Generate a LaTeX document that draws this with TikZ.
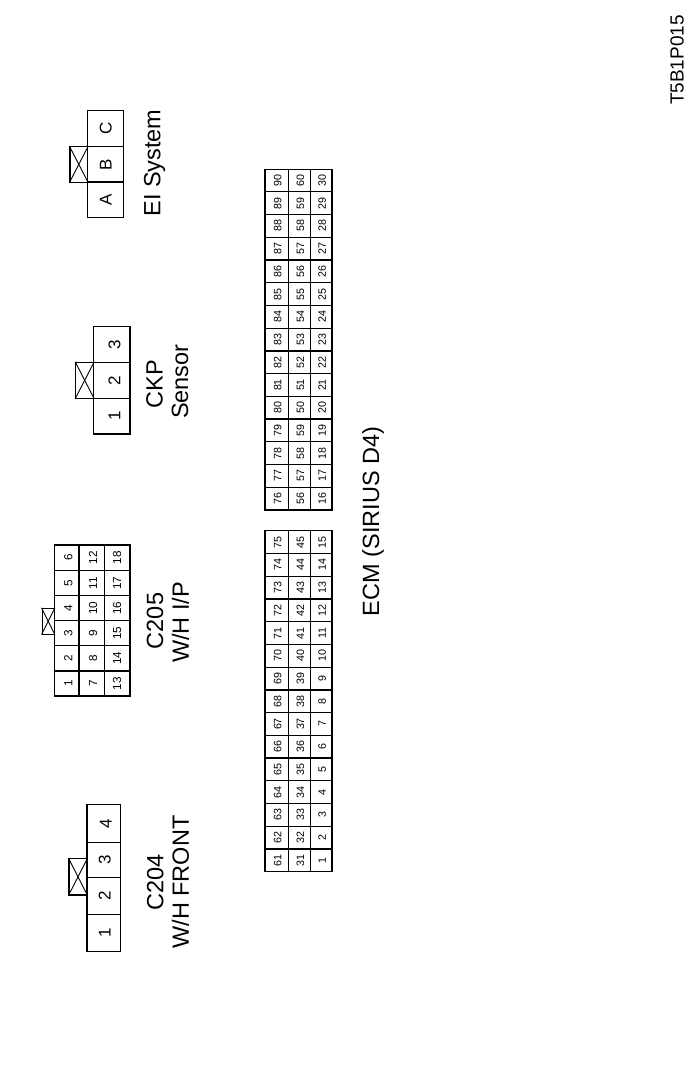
\documentclass[tikz,border=0pt]{standalone}
\usepackage{fontspec}
\setmainfont{Liberation Sans}
\usepackage{tikz}

\begin{document}
\begin{tikzpicture}[x=1pt,y=-1pt]
\tikzstyle{recti}=[rectangle,draw,line width=1.25pt,inner sep=0pt,rotate=90]
\tikzstyle{tabbox}=[rectangle,draw,line width=1.1pt,inner sep=0pt]
\tikzstyle{crossing}=[line width=0.9pt]
\tikzstyle{bigpin}=[recti,font=\fontsize{17}{18}\selectfont]
\tikzstyle{midpin}=[recti,minimum width=25.2pt,font=\fontsize{11.7}{13}\selectfont]
\tikzstyle{ecmupper}=[recti,minimum width=22.73pt,minimum height=23.3pt,text height=9.4pt,font=\fontsize{10.7}{12}\selectfont]
\tikzstyle{ecmmiddle}=[recti,minimum width=22.73pt,minimum height=22pt,text height=9.8pt,font=\fontsize{10.7}{12}\selectfont]
\tikzstyle{ecmlower}=[recti,minimum width=22.73pt,minimum height=21.7pt,text height=9.6pt,font=\fontsize{10.7}{12}\selectfont]
\tikzstyle{title}=[rotate=90,inner sep=0pt,font=\fontsize{23.5}{26}\selectfont]
\useasboundingbox (0,0) rectangle (700,1076);
% sheet code
\node [rotate=90,inner sep=0pt,font=\fontsize{19}{20}\selectfont] (sheetcode) at (677,60) {T5B1P015};
% C204
\node [bigpin,minimum width=37pt,minimum height=33.5pt,text height=14pt] (a1) at (103.7,933.2) {1};
\node [bigpin,minimum width=37pt,minimum height=33.5pt,text height=14pt] (a2) at (103.7,896.2) {2};
\node [bigpin,minimum width=35.4pt,minimum height=33.5pt,text height=14pt] (a3) at (103.7,860) {3};
\node [bigpin,minimum width=38pt,minimum height=33.5pt,text height=16pt] (a4) at (103.7,823.3) {4};
\node [tabbox,minimum width=18pt,minimum height=36.3pt] (atab) at (78,876.8) {};
\draw [crossing] (atab.north west) -- (atab.south east);
\draw [crossing] (atab.north east) -- (atab.south west);
\node [title] (aname) at (155.3,882) {C204};
\node [title] (awire) at (180.5,882) {W/H FRONT};
% C205
\node [midpin,minimum height=24.7pt,text height=11.4pt] (b1) at (66.7,683.5) {1};
\node [midpin,minimum height=24.7pt,text height=11.4pt] (b2) at (66.7,658.3) {2};
\node [midpin,minimum height=24.7pt,text height=11.4pt] (b3) at (66.7,633.2) {3};
\node [midpin,minimum height=24.7pt,text height=11.4pt] (b4) at (66.7,608.2) {4};
\node [midpin,minimum height=24.7pt,text height=11.4pt] (b5) at (66.7,583) {5};
\node [midpin,minimum height=24.7pt,text height=11.4pt] (b6) at (66.7,557.7) {6};
\node [midpin,minimum height=25.3pt,text height=10.8pt] (b7) at (91.7,683.5) {7};
\node [midpin,minimum height=25.3pt,text height=10.8pt] (b8) at (91.7,658.3) {8};
\node [midpin,minimum height=25.3pt,text height=10.8pt] (b9) at (91.7,633.2) {9};
\node [midpin,minimum height=25.3pt,text height=10.8pt] (b10) at (91.7,608.2) {10};
\node [midpin,minimum height=25.3pt,text height=10.8pt] (b11) at (91.7,583) {11};
\node [midpin,minimum height=25.3pt,text height=10.8pt] (b12) at (91.7,557.7) {12};
\node [midpin,minimum height=25.7pt] (b13) at (117.2,683.5) {13};
\node [midpin,minimum height=25.7pt] (b14) at (117.2,658.3) {14};
\node [midpin,minimum height=25.7pt] (b15) at (117.2,633.2) {15};
\node [midpin,minimum height=25.7pt] (b16) at (117.2,608.2) {16};
\node [midpin,minimum height=25.7pt] (b17) at (117.2,583) {17};
\node [midpin,minimum height=25.7pt] (b18) at (117.2,557.7) {18};
\node [tabbox,minimum width=12.3pt,minimum height=25.7pt] (btab) at (48.2,621.2) {};
\draw [crossing] (btab.north west) -- (btab.south east);
\draw [crossing] (btab.north east) -- (btab.south west);
\node [title] (bname) at (155,621) {C205};
\node [title] (bwire) at (180.5,622.5) {W/H I/P};
% CKP
\node [bigpin,minimum width=35.7pt,minimum height=36.3pt,text height=17.3pt] (c1) at (111.8,416.2) {1};
\node [bigpin,minimum width=36pt,minimum height=36.3pt,text height=17.3pt] (c2) at (111.8,380.3) {2};
\node [bigpin,minimum width=35.6pt,minimum height=36.3pt,text height=17.3pt] (c3) at (111.8,344.5) {3};
\node [tabbox,minimum width=18pt,minimum height=36pt] (ctab) at (84.7,380.3) {};
\draw [crossing] (ctab.north west) -- (ctab.south east);
\draw [crossing] (ctab.north east) -- (ctab.south west);
\node [title] (cname) at (154.5,384) {CKP};
\node [title] (cwire) at (180,381.7) {Sensor};
% EI System
\node [bigpin,minimum width=35.3pt,minimum height=36pt] (d1) at (105.7,199.7) {A};
\node [bigpin,minimum width=35.3pt,minimum height=36pt] (d2) at (105.7,164.4) {B};
\node [bigpin,minimum width=36pt,minimum height=36pt] (d3) at (105.7,128.7) {C};
\node [tabbox,minimum width=17.7pt,minimum height=35.3pt] (dtab) at (78.8,164.4) {};
\draw [crossing] (dtab.north west) -- (dtab.south east);
\draw [crossing] (dtab.north east) -- (dtab.south west);
\node [title] (dname) at (154.5,163) {EI System};
% ECM left block
\node [ecmupper] (e61) at (276.6,860.3) {61};
\node [ecmupper] (e62) at (276.6,837.6) {62};
\node [ecmupper] (e63) at (276.6,814.9) {63};
\node [ecmupper] (e64) at (276.6,792.2) {64};
\node [ecmupper] (e65) at (276.6,769.4) {65};
\node [ecmupper] (e66) at (276.6,746.7) {66};
\node [ecmupper] (e67) at (276.6,724.0) {67};
\node [ecmupper] (e68) at (276.6,701.3) {68};
\node [ecmupper] (e69) at (276.6,678.5) {69};
\node [ecmupper] (e70) at (276.6,655.8) {70};
\node [ecmupper] (e71) at (276.6,633.1) {71};
\node [ecmupper] (e72) at (276.6,610.4) {72};
\node [ecmupper] (e73) at (276.6,587.6) {73};
\node [ecmupper] (e74) at (276.6,564.9) {74};
\node [ecmupper] (e75) at (276.6,542.2) {75};
\node [ecmmiddle] (e31) at (299.3,860.3) {31};
\node [ecmmiddle] (e32) at (299.3,837.6) {32};
\node [ecmmiddle] (e33) at (299.3,814.9) {33};
\node [ecmmiddle] (e34) at (299.3,792.2) {34};
\node [ecmmiddle] (e35) at (299.3,769.4) {35};
\node [ecmmiddle] (e36) at (299.3,746.7) {36};
\node [ecmmiddle] (e37) at (299.3,724.0) {37};
\node [ecmmiddle] (e38) at (299.3,701.3) {38};
\node [ecmmiddle] (e39) at (299.3,678.5) {39};
\node [ecmmiddle] (e40) at (299.3,655.8) {40};
\node [ecmmiddle] (e41) at (299.3,633.1) {41};
\node [ecmmiddle] (e42) at (299.3,610.4) {42};
\node [ecmmiddle] (e43) at (299.3,587.6) {43};
\node [ecmmiddle] (e44) at (299.3,564.9) {44};
\node [ecmmiddle] (e45) at (299.3,542.2) {45};
\node [ecmlower] (e1) at (321.1,860.3) {1};
\node [ecmlower] (e2) at (321.1,837.6) {2};
\node [ecmlower] (e3) at (321.1,814.9) {3};
\node [ecmlower] (e4) at (321.1,792.2) {4};
\node [ecmlower] (e5) at (321.1,769.4) {5};
\node [ecmlower] (e6) at (321.1,746.7) {6};
\node [ecmlower] (e7) at (321.1,724.0) {7};
\node [ecmlower] (e8) at (321.1,701.3) {8};
\node [ecmlower] (e9) at (321.1,678.5) {9};
\node [ecmlower] (e10) at (321.1,655.8) {10};
\node [ecmlower] (e11) at (321.1,633.1) {11};
\node [ecmlower] (e12) at (321.1,610.4) {12};
\node [ecmlower] (e13) at (321.1,587.6) {13};
\node [ecmlower] (e14) at (321.1,564.9) {14};
\node [ecmlower] (e15) at (321.1,542.2) {15};
% ECM right block
\node [ecmupper] (f76) at (276.6,498.6) {76};
\node [ecmupper] (f77) at (276.6,475.9) {77};
\node [ecmupper] (f78) at (276.6,453.2) {78};
\node [ecmupper] (f79) at (276.6,430.5) {79};
\node [ecmupper] (f80) at (276.6,407.7) {80};
\node [ecmupper] (f81) at (276.6,385.0) {81};
\node [ecmupper] (f82) at (276.6,362.3) {82};
\node [ecmupper] (f83) at (276.6,339.6) {83};
\node [ecmupper] (f84) at (276.6,316.8) {84};
\node [ecmupper] (f85) at (276.6,294.1) {85};
\node [ecmupper] (f86) at (276.6,271.4) {86};
\node [ecmupper] (f87) at (276.6,248.7) {87};
\node [ecmupper] (f88) at (276.6,225.9) {88};
\node [ecmupper] (f89) at (276.6,203.2) {89};
\node [ecmupper] (f90) at (276.6,180.5) {90};
\node [ecmmiddle] (g1) at (299.3,498.6) {56};
\node [ecmmiddle] (g2) at (299.3,475.9) {57};
\node [ecmmiddle] (g3) at (299.3,453.2) {58};
\node [ecmmiddle] (g4) at (299.3,430.5) {59};
\node [ecmmiddle] (g5) at (299.3,407.7) {50};
\node [ecmmiddle] (g6) at (299.3,385.0) {51};
\node [ecmmiddle] (g7) at (299.3,362.3) {52};
\node [ecmmiddle] (g8) at (299.3,339.6) {53};
\node [ecmmiddle] (g9) at (299.3,316.8) {54};
\node [ecmmiddle] (g10) at (299.3,294.1) {55};
\node [ecmmiddle] (g11) at (299.3,271.4) {56};
\node [ecmmiddle] (g12) at (299.3,248.7) {57};
\node [ecmmiddle] (g13) at (299.3,225.9) {58};
\node [ecmmiddle] (g14) at (299.3,203.2) {59};
\node [ecmmiddle] (g15) at (299.3,180.5) {60};
\node [ecmlower] (f16) at (321.1,498.6) {16};
\node [ecmlower] (f17) at (321.1,475.9) {17};
\node [ecmlower] (f18) at (321.1,453.2) {18};
\node [ecmlower] (f19) at (321.1,430.5) {19};
\node [ecmlower] (f20) at (321.1,407.7) {20};
\node [ecmlower] (f21) at (321.1,385.0) {21};
\node [ecmlower] (f22) at (321.1,362.3) {22};
\node [ecmlower] (f23) at (321.1,339.6) {23};
\node [ecmlower] (f24) at (321.1,316.8) {24};
\node [ecmlower] (f25) at (321.1,294.1) {25};
\node [ecmlower] (f26) at (321.1,271.4) {26};
\node [ecmlower] (f27) at (321.1,248.7) {27};
\node [ecmlower] (f28) at (321.1,225.9) {28};
\node [ecmlower] (f29) at (321.1,203.2) {29};
\node [ecmlower] (f30) at (321.1,180.5) {30};
\node [title] (ecmname) at (373,521.5) {ECM (SIRIUS D4)};
\end{tikzpicture}
\end{document}
